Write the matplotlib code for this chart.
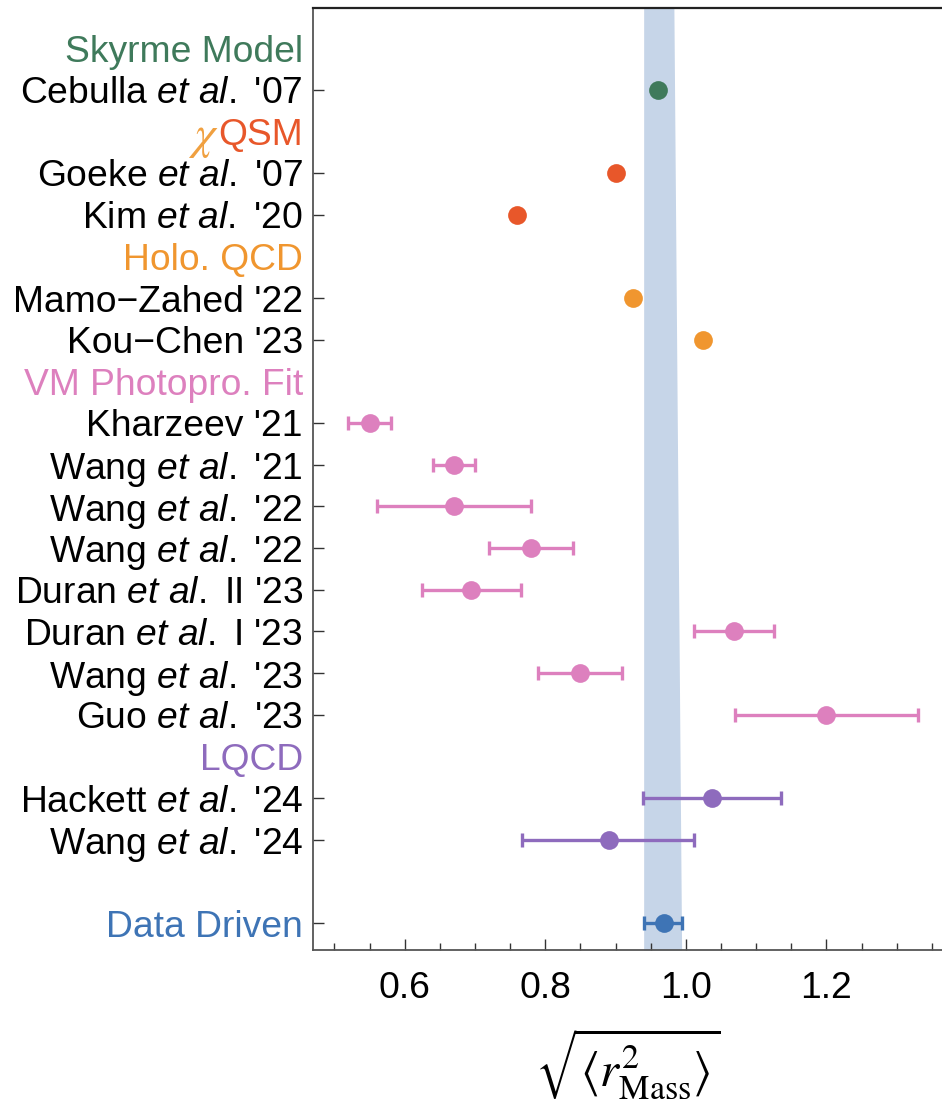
import matplotlib
matplotlib.use("Agg")
import matplotlib.pyplot as plt
from matplotlib.ticker import MultipleLocator, FixedLocator

plt.rcParams['font.family'] = ['Liberation Sans', 'DejaVu Sans']
plt.rcParams['mathtext.fontset'] = 'custom'
plt.rcParams['mathtext.rm'] = 'Liberation Sans'
plt.rcParams['mathtext.it'] = 'Liberation Sans:italic'
plt.rcParams['mathtext.bf'] = 'Liberation Sans:bold'

# ---------------- data ----------------
group_names = ["Skyrme Model", "χQSM", "Holo. QCD", "VM Photopro. Fit", "LQCD", "Data Driven"]
group_colors = ["#3f7a5b", "#e8572a", "#f0962f", "#dd80be", "#8e6bbd", "#3e74b5"]
chi_color = "#f0a040"

study_names = [
    "Cebulla $\\mathit{et\\ al.}$ '07",
    "Goeke $\\mathit{et\\ al.}$ '07",
    "Kim $\\mathit{et\\ al.}$ '20",
    "Mamo\u2212Zahed '22",
    "Kou\u2212Chen '23",
    "Kharzeev '21",
    "Wang $\\mathit{et\\ al.}$ '21",
    "Wang $\\mathit{et\\ al.}$ '22",
    "Wang $\\mathit{et\\ al.}$ '22",
    "Duran $\\mathit{et\\ al.}$ II '23",
    "Duran $\\mathit{et\\ al.}$ I '23",
    "Wang $\\mathit{et\\ al.}$ '23",
    "Guo $\\mathit{et\\ al.}$ '23",
    "Hackett $\\mathit{et\\ al.}$ '24",
    "Wang $\\mathit{et\\ al.}$ '24",
    "Data Driven",
]
study_group = [0, 1, 1, 2, 2, 3, 3, 3, 3, 3, 3, 3, 3, 4, 4, 5]
values  = [0.960, 0.900, 0.760, 0.925, 1.024, 0.550, 0.670, 0.670, 0.780, 0.695, 1.068, 0.850, 1.200, 1.037, 0.890, 0.969]
err_lo  = [0.0,   0.0,   0.0,   0.0,   0.0,   0.030, 0.030, 0.110, 0.060, 0.071, 0.056, 0.061, 0.130, 0.098, 0.123, 0.029]
err_hi  = [0.0,   0.0,   0.0,   0.0,   0.0,   0.030, 0.030, 0.110, 0.060, 0.071, 0.057, 0.059, 0.130, 0.099, 0.121, 0.025]

# data-driven band (lower / upper edge at bottom and top of the frame)
band_lo = [0.940, 0.940]
band_hi = [0.994, 0.983]

x_major = [0.6, 0.8, 1.0, 1.2]
x_label = r'$\sqrt{\langle r^2_{\mathrm{Mass}}\rangle}$'

# ---------------- layout of rows ----------------
rows = []          # (label, color, is_header, study_index)
for gi, gname in enumerate(group_names):
    members = [i for i, g in enumerate(study_group) if g == gi]
    if len(members) == 1 and study_names[members[0]] == gname:
        rows.append(("", "k", True, None))
        rows.append((gname, group_colors[gi], False, members[0]))
    else:
        rows.append((gname, group_colors[gi], True, None))
        for i in members:
            rows.append((study_names[i], "black", False, i))

n_rows = len(rows)

fig = plt.figure(figsize=(9.42, 11.02), dpi=100)
ax = fig.add_axes([313/942, 152/1102, 629/942, 942/1102])

ax.set_xlim(0.4695, 1.3645)
ax.set_ylim(n_rows - 1 + 0.648, -0.96)

yb, yt = ax.get_ylim()
ax.fill_betweenx([yb, yt], band_lo, band_hi, color="#c6d5e8", lw=0, zorder=1)

fs = 26.8
pad_px = 10
tick_rows = []
for r, (lab, col, is_header, si) in enumerate(rows):
    if si is not None:
        tick_rows.append(r)
        c = group_colors[study_group[si]]
        if err_lo[si] > 0 or err_hi[si] > 0:
            ax.errorbar([values[si]], [r], xerr=[[err_lo[si]], [err_hi[si]]], fmt='none',
                        ecolor=c, elinewidth=2.4, capsize=5.0, capthick=2.4, zorder=3)
        ax.plot([values[si]], [r], 'o', ms=13.5, color=c, mec='none', zorder=4)
    if lab == "":
        continue
    ytr = ax.get_yaxis_transform()
    if lab.startswith("χ"):
        t = ax.annotate(lab[1:], xy=(0, r), xycoords=ytr, xytext=(-pad_px, 0),
                        textcoords='offset pixels', ha='right', va='center_baseline',
                        fontsize=fs, color=col)
        ax.annotate(r"$\chi$", xy=(0, r), xycoords=(t, ytr), xytext=(0, -1),
                    textcoords='offset pixels', ha='right', va='center_baseline',
                    fontsize=fs + 7, color=chi_color, math_fontfamily='stix')
    else:
        ax.annotate(lab, xy=(0, r), xycoords=ytr, xytext=(-pad_px, 0),
                    textcoords='offset pixels', ha='right', va='center_baseline',
                    fontsize=fs, color=col, annotation_clip=False)

ax.yaxis.set_major_locator(FixedLocator(tick_rows))
ax.set_yticklabels([])
ax.tick_params(axis='y', direction='in', length=8, width=1.0, color='#333333')

ax.xaxis.set_major_locator(FixedLocator(x_major))
ax.xaxis.set_minor_locator(MultipleLocator(0.05))
ax.set_xticklabels([f"{v:.1f}" for v in x_major])
ax.tick_params(axis='x', which='major', direction='in', length=8, width=1.0,
               color='#333333', labelsize=fs, pad=15)
ax.tick_params(axis='x', which='minor', direction='in', length=4.8, width=1.0, color='#333333')

for s in ['left', 'bottom']:
    ax.spines[s].set_color('#555555')
    ax.spines[s].set_linewidth(1.3)
ax.spines['top'].set_color('#222222')
ax.spines['top'].set_linewidth(1.6)
ax.spines['right'].set_visible(False)

ax.set_xlabel(x_label, fontsize=35, math_fontfamily='stix', va='center')
ax.xaxis.set_label_coords(0.5, -0.121)

fig.savefig("out.png", dpi=100)
